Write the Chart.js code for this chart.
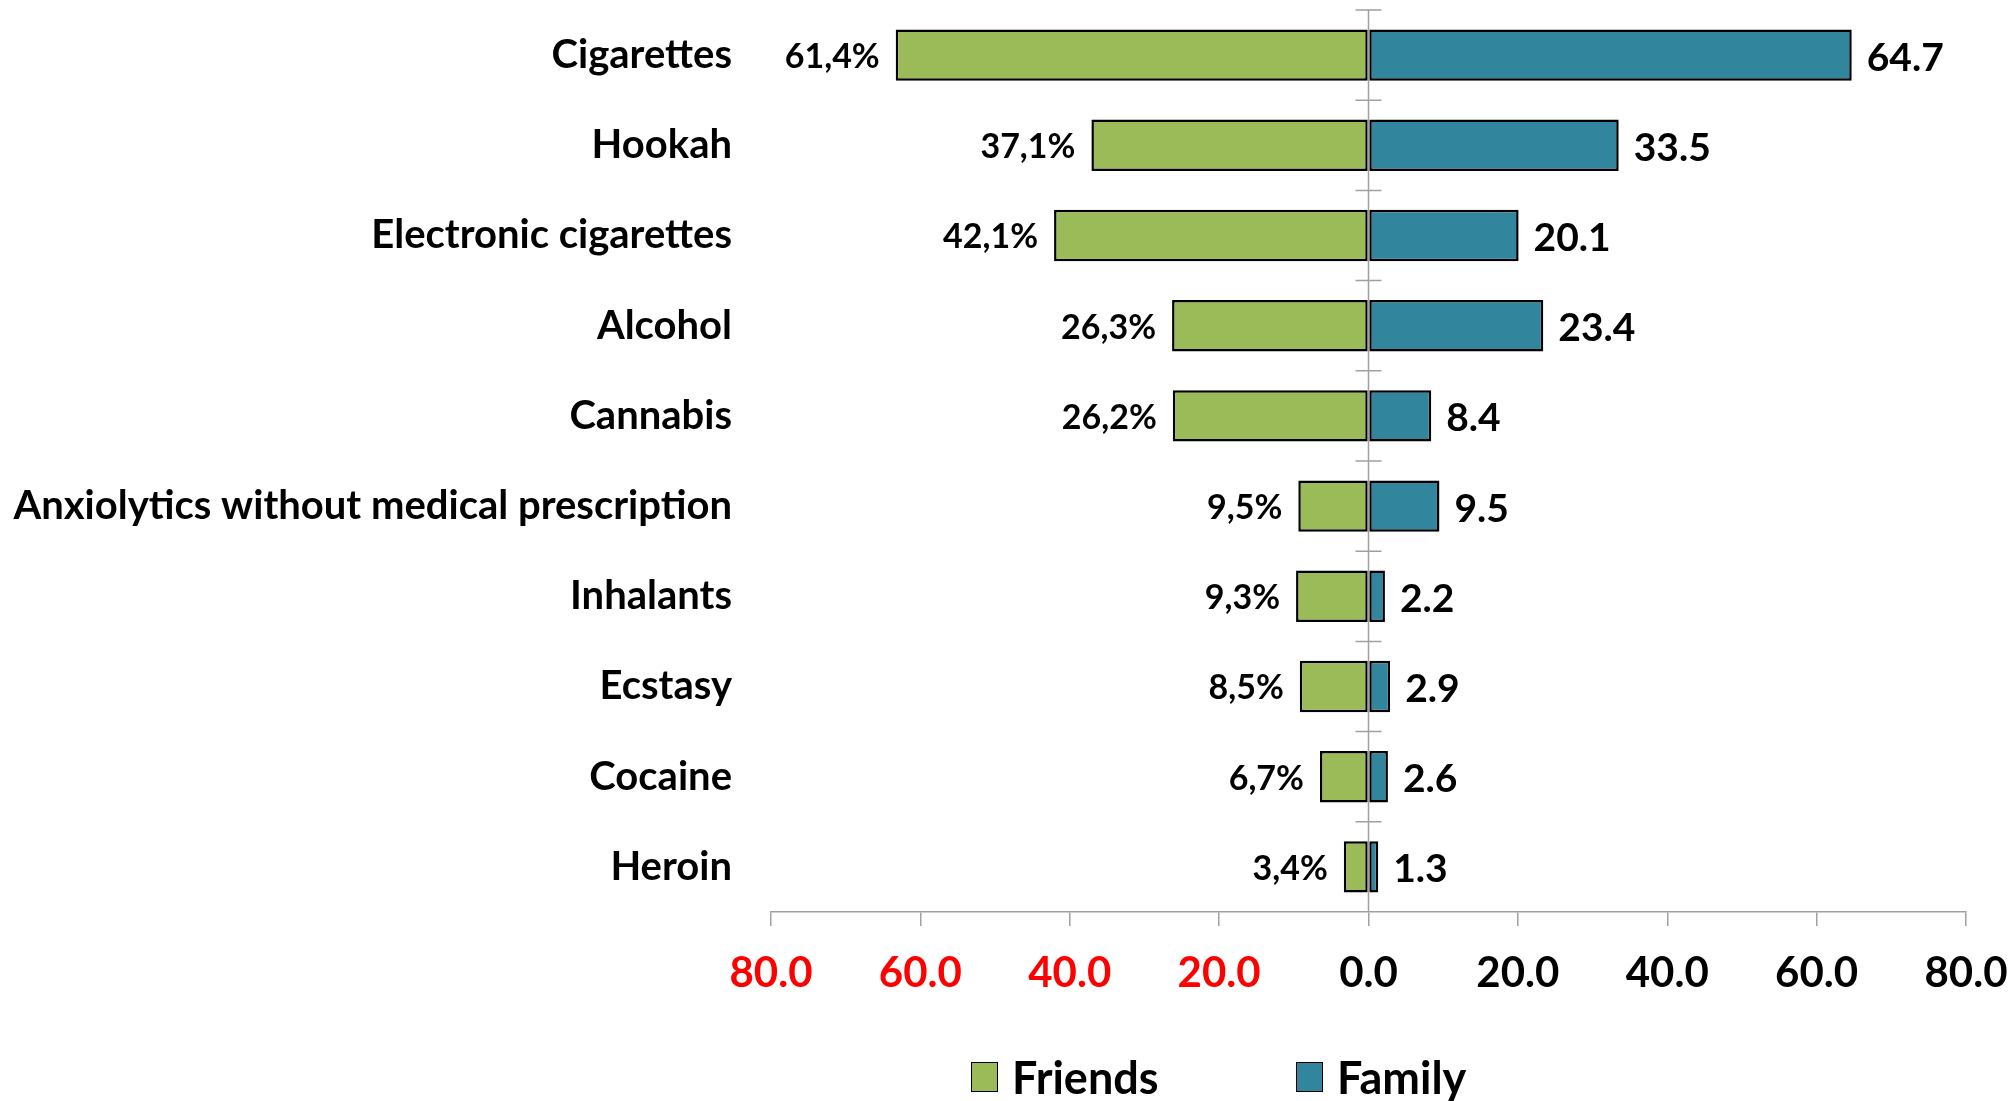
<!DOCTYPE html>
<html>
<head>
<meta charset="utf-8">
<script src="https://cdn.jsdelivr.net/npm/chart.js@4.4.1/dist/chart.umd.min.js"></script>
<style>
  body { margin: 0; background: #fff; }
  #wrap { position: relative; width: 2016px; height: 1101px; }
  #legend { position: absolute; top: 1050px; left: 0; width: 2016px; font: bold 45px Lato, sans-serif; }
  .item { position: absolute; top: 0; display: flex; align-items: center; height: 54px; }
  .box { width: 25px; height: 28px; border: 1.5px solid #000; margin-right: 14px; }
</style>
</head>
<body>
<div id="wrap">
  <canvas id="grafico" width="2016" height="1101"></canvas>
  <div id="legend"></div>
</div>
<script>
// categorias (de cima para baixo)
const categorias = ['Cigarettes', 'Hookah', 'Electronic cigarettes', 'Alcohol', 'Cannabis',
  'Anxiolytics without medical prescription', 'Inhalants', 'Ecstasy', 'Cocaine', 'Heroin'];

const amigos = [63.3, 37.1, 42.1, 26.3, 26.2, 9.4, 9.7, 9.2, 6.5, 3.3];
const amigosRotulos = ['61,4%', '37,1%', '42,1%', '26,3%', '26,2%', '9,5%', '9,3%', '8,5%', '6,7%', '3,4%'];

// família
const familia = [64.7, 33.5, 20.1, 23.4, 8.4, 9.5, 2.2, 2.9, 2.6, 1.3];

// eixo x
const eixoMin = -80, eixoMax = 80, eixoPasso = 20;

const fonte = 'Lato, sans-serif';
const cinza = '#a0a0a0';

// desenha os rótulos dos valores na ponta das barras
const rotulos = {
  id: 'rotulos',
  afterDatasetsDraw(chart) {
    const ctx = chart.ctx;
    ctx.save();
    ctx.fillStyle = '#000';
    ctx.textBaseline = 'middle';
    chart.getDatasetMeta(0).data.forEach((bar, i) => {
      ctx.font = 'bold 34px ' + fonte;
      ctx.textAlign = 'right';
      ctx.fillText(amigosRotulos[i], bar.x - 16, bar.y + 2);
    });
    chart.getDatasetMeta(1).data.forEach((bar, i) => {
      ctx.font = 'bold 39px ' + fonte;
      ctx.textAlign = 'left';
      ctx.fillText(familia[i].toFixed(1), bar.x + 15, bar.y + 3);
    });
    ctx.restore();
  }
};

// linha vertical no zero com as marcas entre categorias
const eixoCentral = {
  id: 'eixoCentral',
  afterDatasetsDraw(chart) {
    const ctx = chart.ctx;
    const area = chart.chartArea;
    const x0 = chart.scales.x.getPixelForValue(0);
    const n = categorias.length;
    ctx.save();
    ctx.strokeStyle = cinza;
    ctx.lineWidth = 1.5;
    ctx.beginPath();
    ctx.moveTo(x0, area.top);
    ctx.lineTo(x0, area.bottom);
    for (let i = 0; i < n; i++) {
      const y = area.top + i * (area.bottom - area.top) / n;
      ctx.moveTo(x0 - 13, y);
      ctx.lineTo(x0 + 13, y);
    }
    ctx.stroke();
    ctx.restore();
  }
};

function criarGrafico() {
  const ctx = document.getElementById('grafico').getContext('2d');
  window.grafico = new Chart(ctx, {
    type: 'bar',
    data: {
      labels: categorias,
      datasets: [{
        label: 'Friends',
        data: amigos.map(v => -v),
        backgroundColor: '#9BBB59',
        borderColor: '#000',
        borderWidth: 2.5,
        borderSkipped: false
      }, {
        label: 'Family',
        data: familia,
        backgroundColor: '#31859C',
        borderColor: '#000',
        borderWidth: 2.5,
        borderSkipped: false
      }]
    },
    options: {
      indexAxis: 'y',
      responsive: false,
      animation: false,
      categoryPercentage: 0.57,
      barPercentage: 1,
      layout: { padding: { top: 10, right: 50, bottom: 0, left: 0 } },
      plugins: {
        legend: { display: false },
        tooltip: { enabled: false }
      },
      scales: {
        x: {
          stacked: true,
          min: eixoMin,
          max: eixoMax,
          ticks: {
            stepSize: eixoPasso,
            padding: 22,
            font: { family: fonte, size: 42, weight: 'bold' },
            color: c => c.tick.value < 0 ? '#ff0000' : '#000',
            callback: v => Math.abs(v).toFixed(1)
          },
          grid: { drawOnChartArea: false, drawTicks: true, tickLength: 14, color: cinza, lineWidth: 1.5 },
          border: { display: true, color: cinza, width: 1.5 },
          afterFit: s => { s.height = 189; s.paddingLeft = 0; s.paddingRight = 0; }
        },
        y: {
          stacked: true,
          ticks: {
            padding: 31,
            color: '#000',
            font: { family: fonte, size: 40, weight: 'bold' }
          },
          grid: { display: false },
          border: { display: false },
          afterFit: s => { s.width = 771; s.paddingTop = 0; s.paddingBottom = 0; }
        }
      }
    },
    plugins: [eixoCentral, rotulos]
  });

  // legenda em html usando as cores das séries
  const legenda = document.getElementById('legend');
  const posicoes = [971, 1296];
  window.grafico.data.datasets.forEach((ds, i) => {
    const item = document.createElement('div');
    item.className = 'item';
    item.style.left = posicoes[i] + 'px';
    item.innerHTML = '<div class="box" style="background:' + ds.backgroundColor + '"></div><span>' + ds.label + '</span>';
    legenda.appendChild(item);
  });
}

criarGrafico();
</script>
</body>
</html>
